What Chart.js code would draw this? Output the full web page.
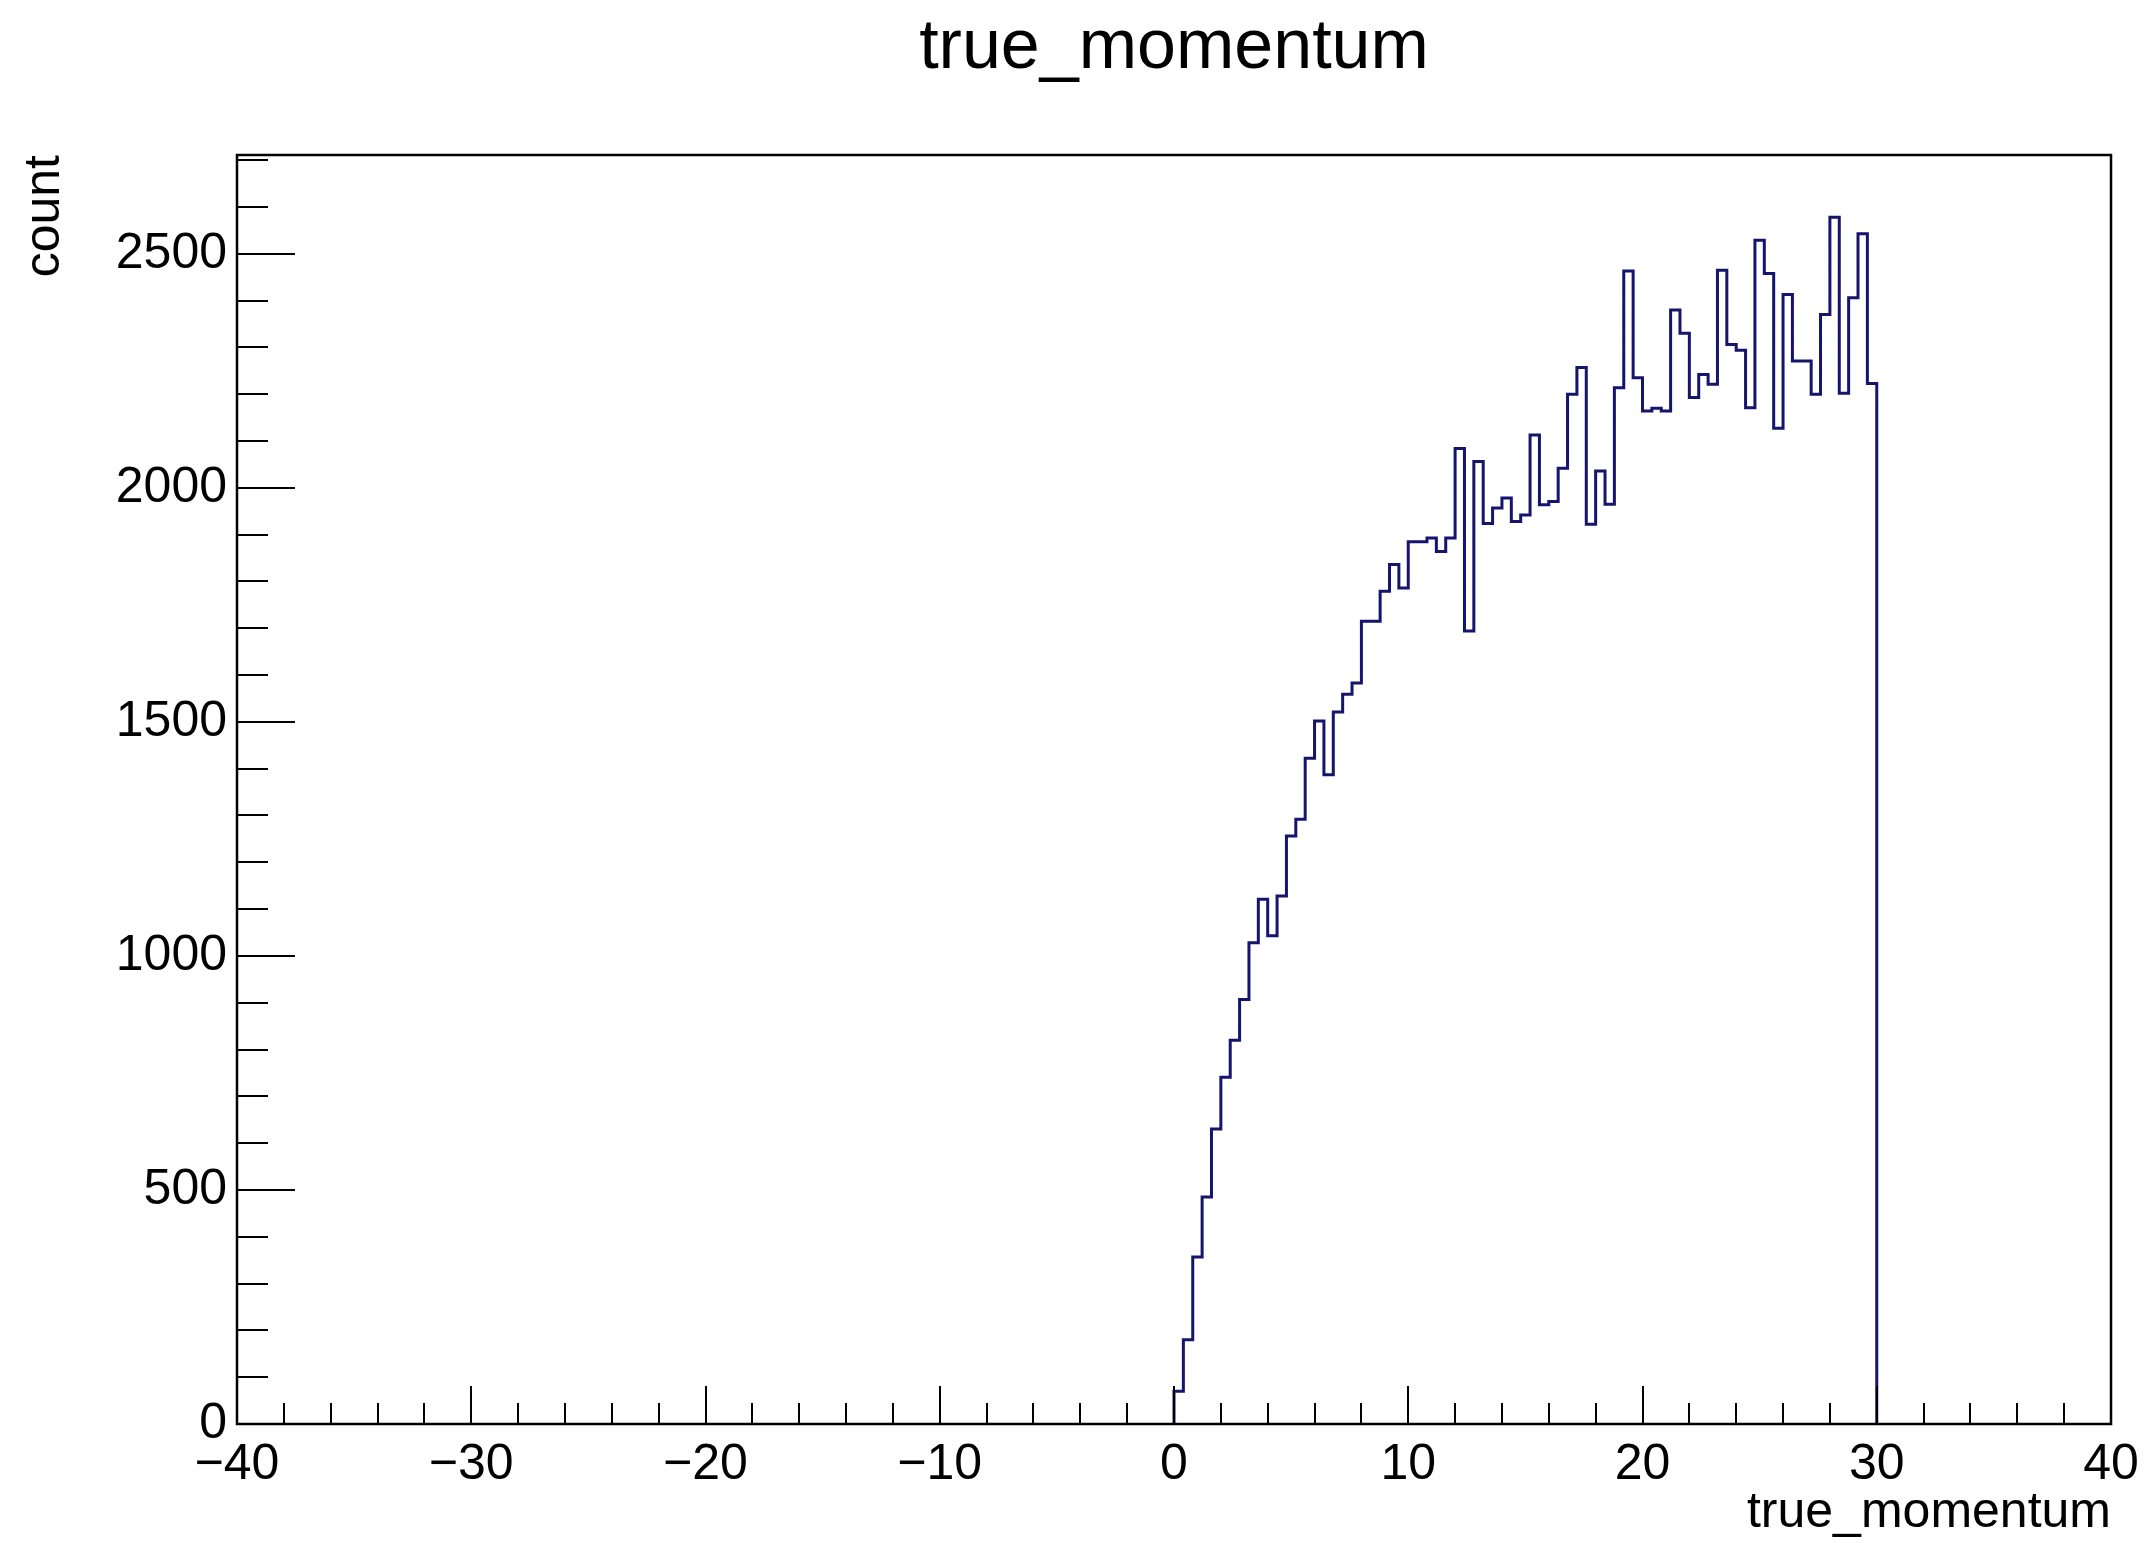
<!DOCTYPE html>
<html>
<head>
<meta charset="utf-8">
<script src="https://cdn.jsdelivr.net/npm/chart.js@4.4.1/dist/chart.umd.min.js"></script>
<style>
  html, body { margin: 0; padding: 0; background: #ffffff; }
  #wrap { width: 2146px; height: 1543px; }
</style>
</head>
<body>
<div id="wrap"><canvas id="c" width="2146" height="1543"></canvas></div>
<script>
// ---- data ----
const chartTitle = 'true_momentum';
const xAxisTitle = 'true_momentum';
const yAxisTitle = 'count';
const binStart = 0;
const binWidth = 0.4;
const counts = [
  70, 180, 357, 485, 630, 741, 820, 907, 1028, 1121,
  1043, 1128, 1256, 1292, 1422, 1502, 1387, 1521, 1559, 1583,
  1715, 1715, 1779, 1836, 1786, 1885, 1885, 1893, 1864, 1893,
  2084, 1694, 2056, 1924, 1957, 1978, 1928, 1942, 2113, 1964,
  1971, 2042, 2200, 2257, 1922, 2036, 1965, 2214, 2463, 2235,
  2164, 2170, 2164, 2380, 2330, 2193, 2242, 2221, 2465, 2306,
  2294, 2171, 2529, 2458, 2127, 2413, 2271, 2271, 2200, 2370,
  2578, 2202, 2406, 2543, 2223
];
const xMin = -40, xMax = 40;
const yMin = 0, yMax = 2711;
const xTickValues = [-40, -30, -20, -10, 0, 10, 20, 30, 40];
const xTickLabels = ['\u221240', '\u221230', '\u221220', '\u221210', '0', '10', '20', '30', '40'];
const xMinorStep = 2;
const yTickValues = [0, 500, 1000, 1500, 2000, 2500];
const yTickLabels = ['0', '500', '1000', '1500', '2000', '2500'];
const yMinorStep = 100;

// ---- build histogram outline points (left bin edges, stepped) ----
const points = [{ x: binStart, y: 0 }];
counts.forEach((c, i) => points.push({ x: binStart + i * binWidth, y: c }));
points.push({ x: binStart + counts.length * binWidth, y: 0 });

const FONT = "'Liberation Sans', Arial, Helvetica, sans-serif";

const framePlugin = {
  id: 'rootFrame',
  afterDatasetsDraw(chart) {
    const { ctx, chartArea: a, scales: { x, y } } = chart;
    ctx.save();
    ctx.strokeStyle = '#000';
    ctx.lineWidth = 2;
    ctx.beginPath();
    // x ticks (inside, pointing up)
    for (let v = xMin; v <= xMax + 1e-9; v += xMinorStep) {
      const px = Math.round(x.getPixelForValue(v));
      const major = xTickValues.includes(v);
      const len = major ? 38 : 21;
      ctx.moveTo(px, a.bottom);
      ctx.lineTo(px, a.bottom - len);
    }
    // y ticks (inside, pointing right)
    for (let v = yMin; v <= yMax; v += yMinorStep) {
      const py = Math.round(y.getPixelForValue(v));
      const major = yTickValues.includes(v);
      const len = major ? 58 : 31;
      ctx.moveTo(a.left, py);
      ctx.lineTo(a.left + len, py);
    }
    ctx.stroke();
    ctx.lineWidth = 2.5;
    ctx.strokeRect(a.left, a.top, a.right - a.left, a.bottom - a.top);
    // title centered above plot area
    ctx.fillStyle = '#000';
    ctx.font = '70px ' + FONT;
    ctx.textAlign = 'center';
    ctx.textBaseline = 'alphabetic';
    ctx.fillText(chartTitle, (a.left + a.right) / 2, 68);
    ctx.restore();
  }
};

new Chart(document.getElementById('c'), {
  type: 'line',
  data: {
    datasets: [{
      data: points,
      stepped: 'before',
      borderColor: '#15156e',
      borderWidth: 3,
      pointRadius: 0,
      fill: false,
      tension: 0
    }]
  },
  options: {
    responsive: false,
    animation: false,
    devicePixelRatio: 1,
    layout: { padding: { top: 155, right: 35, bottom: 0, left: 0 } },
    plugins: {
      legend: { display: false },
      title: { display: false },
      tooltip: { enabled: false }
    },
    scales: {
      x: {
        type: 'linear',
        min: xMin,
        max: xMax,
        afterBuildTicks: s => { s.ticks = xTickValues.map(v => ({ value: v })); },
        afterFit: s => { s.height = 119; },
        grid: { display: false, drawTicks: false },
        border: { display: false },
        ticks: {
          autoSkip: false,
          maxRotation: 0,
          padding: 5,
          color: '#000',
          font: { family: FONT, size: 50, lineHeight: 1.44 },
          callback: (v, i) => xTickLabels[i]
        },
        title: {
          display: true,
          text: xAxisTitle,
          align: 'end',
          color: '#000',
          font: { family: FONT, size: 50 },
          padding: { top: 0, bottom: 0 }
        }
      },
      y: {
        type: 'linear',
        min: yMin,
        max: yMax,
        afterBuildTicks: s => { s.ticks = yTickValues.map(v => ({ value: v })); },
        afterFit: s => { s.width = 237; },
        grid: { display: false, drawTicks: false },
        border: { display: false },
        ticks: {
          padding: 10,
          color: '#000',
          font: { family: FONT, size: 50 },
          callback: (v, i) => yTickLabels[i]
        },
        title: {
          display: true,
          text: yAxisTitle,
          align: 'end',
          color: '#000',
          font: { family: FONT, size: 50 },
          padding: { top: 15, bottom: 0 }
        }
      }
    }
  },
  plugins: [framePlugin]
});
</script>
</body>
</html>
